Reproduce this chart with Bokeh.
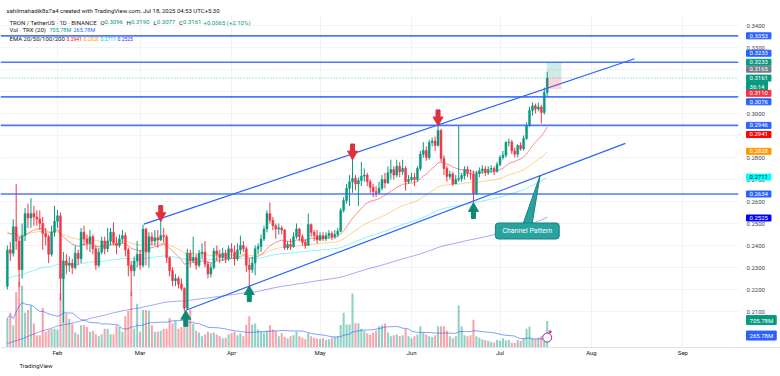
import numpy as np
import pandas as pd
from bokeh.plotting import figure
from bokeh.models import (Range1d, FixedTicker, PrintfTickFormatter, DatetimeTickFormatter,
                          Label, Title, ColumnDataSource)
from bokeh.embed import file_html
from bokeh.resources import INLINE

# ---------------- data (TRX/USDT daily) ----------------
first_open = 0.2215
jan_close = [.2380, .2365, .2485, .2420, .2290, .2445, .2545, .2525, .2545, .2530, .2520, .2500, .2455, .2440, .2360, .2460, .2510]
jan_high = [.2400, .2415, .2520, .2680, .2440, .2500, .2570, .2590, .2615, .2580, .2560, .2560, .2530, .2480, .2450, .2490, .2580]
jan_low = [.2200, .2330, .2350, .2380, .2210, .2250, .2420, .2480, .2480, .2490, .2490, .2470, .2380, .2400, .2320, .2350, .2440]
jan_vol = [790, 930, 595, 1480, 1760, 1650, 930, 1000, 1120, 640, 330, 330, 1060, 420, 480, 500, 500]

feb_close = [.2535, .2250, .2330, .2310, .2320, .2300, .2365, .2340, .2460, .2430, .2410, .2440, .2385, .2310, .2370, .2420, .2385, .2420, .2460, .2410, .2400, .2430, .2445, .2380, .2310, .2285, .2330, .2360]
feb_high = [.2560, .2550, .2370, .2360, .2350, .2340, .2400, .2380, .2480, .2490, .2450, .2470, .2450, .2400, .2390, .2440, .2440, .2480, .2480, .2505, .2440, .2450, .2470, .2460, .2390, .2330, .2350, .2420]
feb_low = [.2480, .2150, .2050, .2270, .2280, .2270, .2290, .2310, .2320, .2400, .2380, .2370, .2360, .2290, .2300, .2360, .2360, .2370, .2400, .2400, .2360, .2390, .2410, .2350, .2260, .2170, .2260, .2300]
feb_vol = [480, 1440, 2000, 900, 770, 640, 400, 355, 595, 595, 550, 420, 450, 355, 300, 355, 500, 500, 355, 355, 595, 550, 420, 835, 980, 1500, 500, 1170]

mar_close = [.2310, .2475, .2370, .2440, .2420, .2435, .2425, .2445, .2440, .2345, .2285, .2240, .2250, .2225, .2205, .2115, .2365, .2330, .2345, .2310, .2365, .2370, .2315, .2270, .2300, .2375, .2360, .2345, .2365, .2340, .2385]
mar_high = [.2380, .2495, .2480, .2460, .2460, .2470, .2470, .2515, .2480, .2450, .2350, .2300, .2270, .2260, .2250, .2210, .2385, .2380, .2440, .2360, .2380, .2410, .2420, .2330, .2320, .2390, .2400, .2380, .2390, .2380, .2400]
mar_low = [.2290, .2300, .2310, .2300, .2400, .2400, .2390, .2420, .2410, .2320, .2260, .2215, .2215, .2205, .2195, .2100, .2110, .2300, .2320, .2290, .2300, .2340, .2300, .2250, .2255, .2290, .2330, .2320, .2330, .2320, .2330]
mar_vol = [420, 1000, 1000, 980, 595, 420, 420, 450, 500, 500, 790, 640, 710, 500, 550, 600, 640, 1000, 640, 450, 400, 300, 350, 420, 380, 400, 350, 300, 250, 260, 350]

apr_close = [.2370, .2340, .2380, .2400, .2385, .2310, .2290, .2320, .2385, .2395, .2430, .2475, .2545, .2515, .2490, .2475, .2480, .2470, .2390, .2405, .2395, .2440, .2475, .2440, .2415, .2400, .2495, .2460, .2445, .2425]
apr_high = [.2410, .2400, .2410, .2445, .2420, .2395, .2340, .2350, .2400, .2410, .2450, .2490, .2560, .2595, .2530, .2500, .2500, .2490, .2475, .2420, .2430, .2460, .2500, .2480, .2450, .2430, .2545, .2500, .2470, .2470]
apr_low = [.2340, .2310, .2330, .2360, .2370, .2280, .2215, .2275, .2265, .2360, .2370, .2420, .2460, .2500, .2470, .2430, .2450, .2450, .2380, .2380, .2380, .2390, .2430, .2420, .2400, .2385, .2400, .2440, .2420, .2410]
apr_vol = [380, 420, 330, 380, 300, 600, 835, 615, 640, 480, 420, 400, 450, 595, 480, 440, 300, 380, 280, 240, 300, 330, 420, 300, 260, 220, 380, 300, 260, 240]

may_close = [.2445, .2430, .2445, .2455, .2440, .2450, .2465, .2560, .2605, .2660, .2690, .2705, .2680, .2695, .2715, .2720, .2690, .2665, .2645, .2640, .2660, .2700, .2685, .2730, .2745, .2720, .2760, .2735, .2750, .2690, .2700]
may_high = [.2460, .2460, .2460, .2470, .2465, .2470, .2480, .2570, .2620, .2680, .2720, .2795, .2720, .2710, .2780, .2750, .2730, .2700, .2680, .2670, .2690, .2720, .2730, .2760, .2790, .2760, .2790, .2780, .2790, .2760, .2720]
may_low = [.2420, .2420, .2420, .2430, .2425, .2430, .2440, .2460, .2550, .2590, .2580, .2640, .2650, .2580, .2670, .2690, .2670, .2640, .2620, .2620, .2635, .2650, .2660, .2680, .2700, .2700, .2710, .2710, .2720, .2650, .2680]
may_vol = [230, 250, 200, 220, 260, 280, 300, 600, 930, 615, 615, 1440, 650, 650, 500, 450, 380, 350, 400, 450, 570, 595, 640, 400, 300, 330, 350, 300, 330, 500, 300]

jun_close = [.2710, .2700, .2750, .2815, .2832, .2800, .2868, .2875, .2855, .2923, .2795, .2750, .2714, .2725, .2680, .2700, .2705, .2718, .2745, .2727, .2725, .2636, .2727, .2740, .2748, .2732, .2745, .2750, .2738, .2768]
jun_high = [.2730, .2730, .2760, .2830, .2870, .2850, .2880, .2890, .2895, .2950, .2930, .2810, .2760, .2740, .2735, .2720, .2945, .2730, .2760, .2760, .2745, .2740, .2740, .2755, .2765, .2760, .2760, .2765, .2760, .2780]
jun_low = [.2690, .2670, .2690, .2740, .2800, .2785, .2790, .2850, .2830, .2850, .2780, .2720, .2690, .2700, .2670, .2680, .2690, .2690, .2700, .2710, .2700, .2595, .2630, .2710, .2725, .2715, .2720, .2730, .2720, .2730]
jun_vol = [250, 300, 350, 570, 400, 350, 300, 280, 330, 570, 570, 570, 450, 300, 250, 300, 1120, 570, 330, 300, 330, 740, 300, 260, 220, 200, 180, 150, 130, 200]

jul_close = [.2800, .2810, .2868, .2870, .2830, .2815, .2855, .2840, .2886, .2945, .3014, .3035, .3020, .3030, .3005, .3096, .3161]
jul_high = [.2810, .2830, .2875, .2885, .2880, .2845, .2860, .2870, .2900, .2960, .3030, .3050, .3045, .3050, .3040, .3118, .3190]
jul_low = [.2760, .2790, .2800, .2850, .2815, .2800, .2800, .2830, .2830, .2880, .2940, .2990, .3000, .3010, .2955, .2995, .3077]
jul_vol = [180, 250, 190, 200, 130, 120, 200, 180, 250, 500, 560, 250, 220, 260, 300, 350, 706]

# EMA values just before the first bar
ema_periods = [20, 50, 100, 200]
ema_seeds = [0.2470, 0.2460, 0.2250, 0.1950]
ema_last_text = ["0.2941", "0.2828", "0.2711", "0.2525"]
ema_colors = ["#ff0000", "#ff9800", "#00e5ff", "#0000ff"]

level_prices = [0.3353, 0.3233, 0.3076, 0.2946, 0.2634]
price_ticks = [0.21, 0.22, 0.23, 0.24, 0.25, 0.26, 0.27, 0.28, 0.29, 0.30, 0.31, 0.32, 0.33, 0.34]
month_ticks = ["2025-02-01", "2025-03-01", "2025-04-01", "2025-05-01", "2025-06-01", "2025-07-01", "2025-08-01", "2025-09-01"]

upper_dates = ["2025-03-02 07:00", "2025-08-15 14:00"]
upper_prices = [0.2497, 0.3249]
lower_dates = ["2025-03-16 12:00", "2025-08-12 12:00"]
lower_prices = [0.2106, 0.2864]

red_arrow_dates = ["2025-03-08", "2025-05-12", "2025-06-10"]
red_arrow_tips = [0.2520, 0.2800, 0.2955]
green_arrow_dates = ["2025-03-16 12:00", "2025-04-07", "2025-06-22"]
green_arrow_tips = [0.2094, 0.2206, 0.2584]

pos_entry, pos_tp, pos_sl = 0.3165, 0.3233, 0.3110
last_price = 0.3161
last_vol_text, vol_ma_text = "705.78M", "265.78M"

# ---------------- derived ----------------
dates = pd.date_range("2025-01-15", "2025-07-17", freq="D")
close = np.array(jan_close + feb_close + mar_close + apr_close + may_close + jun_close + jul_close)
high = np.array(jan_high + feb_high + mar_high + apr_high + may_high + jun_high + jul_high)
low = np.array(jan_low + feb_low + mar_low + apr_low + may_low + jun_low + jul_low)
vol = np.array(jan_vol + feb_vol + mar_vol + apr_vol + may_vol + jun_vol + jul_vol, dtype=float)
opn = np.concatenate([[first_open], close[:-1]])
high = np.maximum(high, np.maximum(opn, close))
low = np.minimum(low, np.minimum(opn, close))


def ema(vals, n, seed):
    a = 2.0 / (n + 1)
    out, e = [], seed
    for v in vals:
        e = a * v + (1 - a) * e
        out.append(e)
    return np.array(out)


emas = [ema(close, n, s) for n, s in zip(ema_periods, ema_seeds)]
vol_ma = pd.Series(vol).rolling(20, min_periods=1).mean().values

GREEN, RED, BLUE = "#089981", "#f23645", "#2962ff"
inc = close >= opn
src = ColumnDataSource(dict(
    x=dates, o=opn, h=high, l=low, c=close,
    top=np.maximum(opn, close), bot=np.minimum(opn, close), v=vol,
    color=np.where(inc, GREEN, RED)))

DAY = 86400000
FEB1 = pd.Timestamp("2025-02-01").value / 1e6


def ms(s):
    return pd.Timestamp(s).value / 1e6


# horizontal layout: 2.95 px per day, Feb 1 near x=57
X0 = FEB1 - 19.32 * DAY       # left edge of the pane
XS = FEB1 + 230.85 * DAY      # start of the price scale strip
X1 = FEB1 + 245.08 * DAY      # right edge of the page
Y0, Y1 = 0.19364, 0.3450
FRAME_H = 333
ppx = (Y1 - Y0) / FRAME_H
FONT = "Roboto"
INK = "#131722"

p = figure(width=780, height=376, x_axis_type="datetime", y_axis_location="right",
           x_range=Range1d(X0, X1), y_range=Range1d(Y0, Y1),
           output_backend="svg", toolbar_location=None, title=None,
           min_border_left=0, min_border_right=0, min_border_top=14, min_border_bottom=29)
p.extra_y_ranges = {"vol": Range1d(0, 8900)}
p.outline_line_color = None
p.background_fill_color = "#ffffff"
p.border_fill_color = "#ffffff"

# price scale (labels drawn back inside the strip)
p.yaxis.ticker = FixedTicker(ticks=price_ticks)
p.yaxis.formatter = PrintfTickFormatter(format="%.4f")
p.yaxis.major_tick_line_color = None
p.yaxis.minor_tick_line_color = None
p.yaxis.major_tick_out = 0
p.yaxis.major_tick_in = 0
p.yaxis.minor_tick_out = 0
p.yaxis.axis_line_color = None
p.yaxis.major_label_text_font_size = "6px"
p.yaxis.major_label_text_font = FONT
p.yaxis.major_label_text_color = "#434651"
p.yaxis.major_label_standoff = -34

p.xaxis.ticker = FixedTicker(ticks=[ms(d) for d in month_ticks])
p.xaxis.formatter = DatetimeTickFormatter(months="%b", days="%b", hours="%b", years="%b")
p.xaxis.major_tick_line_color = None
p.xaxis.minor_tick_line_color = None
p.xaxis.major_tick_out = 0
p.xaxis.major_tick_in = 0
p.xaxis.minor_tick_out = 0
p.xaxis.axis_line_color = "#e0e3eb"
p.xaxis.major_label_text_font_size = "6px"
p.xaxis.major_label_text_font = FONT
p.xaxis.major_label_text_color = INK
p.xaxis.major_label_standoff = 1

p.xgrid.ticker = FixedTicker(ticks=[ms(d) for d in month_ticks])
p.xgrid.grid_line_color = "#f0f3fa"
p.ygrid.grid_line_color = "#f0f3fa"

p.add_layout(Title(text="sahilmahadik8s7a4 created with TradingView.com, Jul 18, 2025 04:53 UTC+5:30",
                   align="left", offset=6, standoff=0, vertical_align="middle",
                   text_font=FONT, text_font_size="6px", text_font_style="normal", text_color=INK), "above")
p.add_layout(Title(text="TradingView", align="left", offset=19, standoff=5, vertical_align="middle",
                   text_font=FONT, text_font_size="6px", text_font_style="normal", text_color=INK), "below")

# volume + volume MA
p.vbar(x="x", top="v", bottom=0, width=0.7 * DAY, source=src, y_range_name="vol",
       fill_color="color", line_color=None, fill_alpha=0.45)
p.line(dates, vol_ma, y_range_name="vol", line_color=BLUE, line_alpha=0.6, line_width=1)

# EMAs
for e, col, a in zip(emas, ema_colors, [0.45, 0.45, 0.45, 0.35]):
    p.line(dates, e, line_color=col, line_alpha=a, line_width=1)

# candles
p.segment(x0="x", y0="l", x1="x", y1="h", source=src, line_color="color", line_width=1)
p.vbar(x="x", top="top", bottom="bot", width=0.66 * DAY, source=src,
       fill_color="color", line_color="color", line_width=0.5)

# horizontal levels and current-price line (end at the price scale)
p.segment(x0=[X0] * len(level_prices), y0=level_prices, x1=[XS] * len(level_prices), y1=level_prices,
          line_color=BLUE, line_width=1.7, line_alpha=0.85)
p.segment(x0=[X0], y0=[last_price], x1=[XS], y1=[last_price], line_color=GREEN, line_width=1,
          line_dash="1 2", line_alpha=0.6)

# channel
p.line([pd.Timestamp(d) for d in upper_dates], upper_prices, line_color=BLUE, line_width=1.2)
p.line([pd.Timestamp(d) for d in lower_dates], lower_prices, line_color=BLUE, line_width=1.2)

# arrows
rx = [pd.Timestamp(d) for d in red_arrow_dates]
gx = [pd.Timestamp(d) for d in green_arrow_dates]
p.scatter(rx, [t + 3.5 * ppx for t in red_arrow_tips], marker="inverted_triangle", size=10,
          fill_color="#e0303e", line_color="#e0303e")
p.rect(rx, [t + 10 * ppx for t in red_arrow_tips], width=4, height=7, width_units="screen",
       height_units="screen", fill_color="#e0303e", line_color="#e0303e")
p.scatter(gx, [t - 3.5 * ppx for t in green_arrow_tips], marker="triangle", size=10,
          fill_color="#0a8a72", line_color="#0a8a72")
p.rect(gx, [t - 10 * ppx for t in green_arrow_tips], width=4, height=7, width_units="screen",
       height_units="screen", fill_color="#0a8a72", line_color="#0a8a72")

# position tool
p.quad(left=pd.Timestamp("2025-07-16 20:00"), right=pd.Timestamp("2025-07-21 20:00"),
       top=pos_tp, bottom=pos_entry, fill_color=GREEN, fill_alpha=0.2, line_color=None)
p.quad(left=pd.Timestamp("2025-07-16 20:00"), right=pd.Timestamp("2025-07-21 20:00"),
       top=pos_entry, bottom=pos_sl, fill_color=RED, fill_alpha=0.2, line_color=None)

# callout pointer
CALL = "#27a3a0"
p.patch([pd.Timestamp("2025-07-08 08:00"), pd.Timestamp("2025-07-11 16:00"), pd.Timestamp("2025-07-14 14:00")],
        [0.2480, 0.2480, 0.2718], fill_color=CALL, line_color="#1e7f7d", line_width=1)

# event icon on the volume pane
p.scatter([pd.Timestamp("2025-07-17")], [265], y_range_name="vol", marker="circle", size=9,
          fill_color="#ffffff", line_color="#9c27b0", line_width=1)
p.scatter([pd.Timestamp("2025-07-18")], [420], y_range_name="vol", marker="circle", size=3,
          fill_color=RED, line_color=None)

# blank strip behind the price scale
p.quad(left=[XS], right=[X1], top=[Y1], bottom=[Y0], fill_color="#ffffff", line_color=None)

# callout box
p.add_layout(Label(x=ms("2025-07-10 06:00"), y=0.2466, text="Channel Pattern", text_color="#ffffff",
                   text_font=FONT, text_font_size="7px", text_align="center", text_baseline="middle",
                   background_fill_color=CALL, border_line_color="#1e7f7d", border_radius=3,
                   padding=dict(left=7, right=7, top=4, bottom=4)))


# ---------------- legend texts ----------------
def tl(text, x, y, color, size="6px"):
    p.add_layout(Label(x=X0, y=Y1, x_offset=x, y_offset=-(y - 14), text=text, text_color=color,
                       text_font=FONT, text_font_size=size, text_baseline="middle"))

tl("TRON / TetherUS \u00b7 1D \u00b7 BINANCE", 9, 21.7, INK)
for t, xo, c in [("O", 100, INK), ("0.3096", 104, GREEN), ("H", 126, INK), ("0.3190", 130.5, GREEN),
                 ("L", 153, INK), ("0.3077", 156.3, GREEN), ("C", 178.5, INK), ("0.3161", 182.5, GREEN),
                 ("+0.0065 (+2.10%)", 203, GREEN)]:
    tl(t, xo, 21.7, c)
tl("Vol \u00b7 TRX (20)", 9, 29.3, INK)
tl(last_vol_text, 49, 29.3, GREEN, "5.5px")
tl(vol_ma_text, 73, 29.3, BLUE, "5.5px")
tl("EMA 20/50/100/200", 9, 38.3, INK)
for t, xo, c in zip(ema_last_text, [66, 83, 100, 117], ["#ff0000", "#ff9800", "#00bcd4", "#2b2bff"]):
    tl(t, xo, 38.3, c, "5px")


# ---------------- price scale labels ----------------
def plab(text, y, bg, fg="#ffffff", yo=0, rng="default"):
    p.add_layout(Label(x=XS, y=y, x_offset=8, y_offset=yo, text=text, text_color=fg, text_font=FONT,
                       text_font_size="6px", text_baseline="middle", text_align="left",
                       background_fill_color=bg, border_line_color=bg, y_range_name=rng,
                       padding=dict(left=3, right=3, top=1, bottom=1)))

plab("0.3353", 0.3353, BLUE)
plab("0.3233", 0.3233, BLUE, yo=9)
plab("0.3233", 0.3233, GREEN)
plab("0.3165", pos_entry, "#787b86", yo=8)
plab("0.3161", last_price, GREEN)
plab("36:14", last_price, GREEN, yo=-8)
plab("0.3110", pos_sl, RED, yo=-4)
plab("0.3076", 0.3076, BLUE, yo=-5)
plab("0.2946", 0.2946, BLUE)
plab(ema_last_text[0], 0.2941, "#ff0000", yo=-8)
plab(ema_last_text[1], 0.2828, "#ff9800")
plab(ema_last_text[2], 0.2711, "#00ffff", fg=INK)
plab("0.2634", 0.2634, BLUE)
plab(ema_last_text[3], 0.2525, "#0000ff")
plab(last_vol_text, 705.78, GREEN, yo=1, rng="vol")
plab(vol_ma_text, 265.78, BLUE, yo=2, rng="vol")

open("out.html", "w").write(file_html(p, INLINE))
